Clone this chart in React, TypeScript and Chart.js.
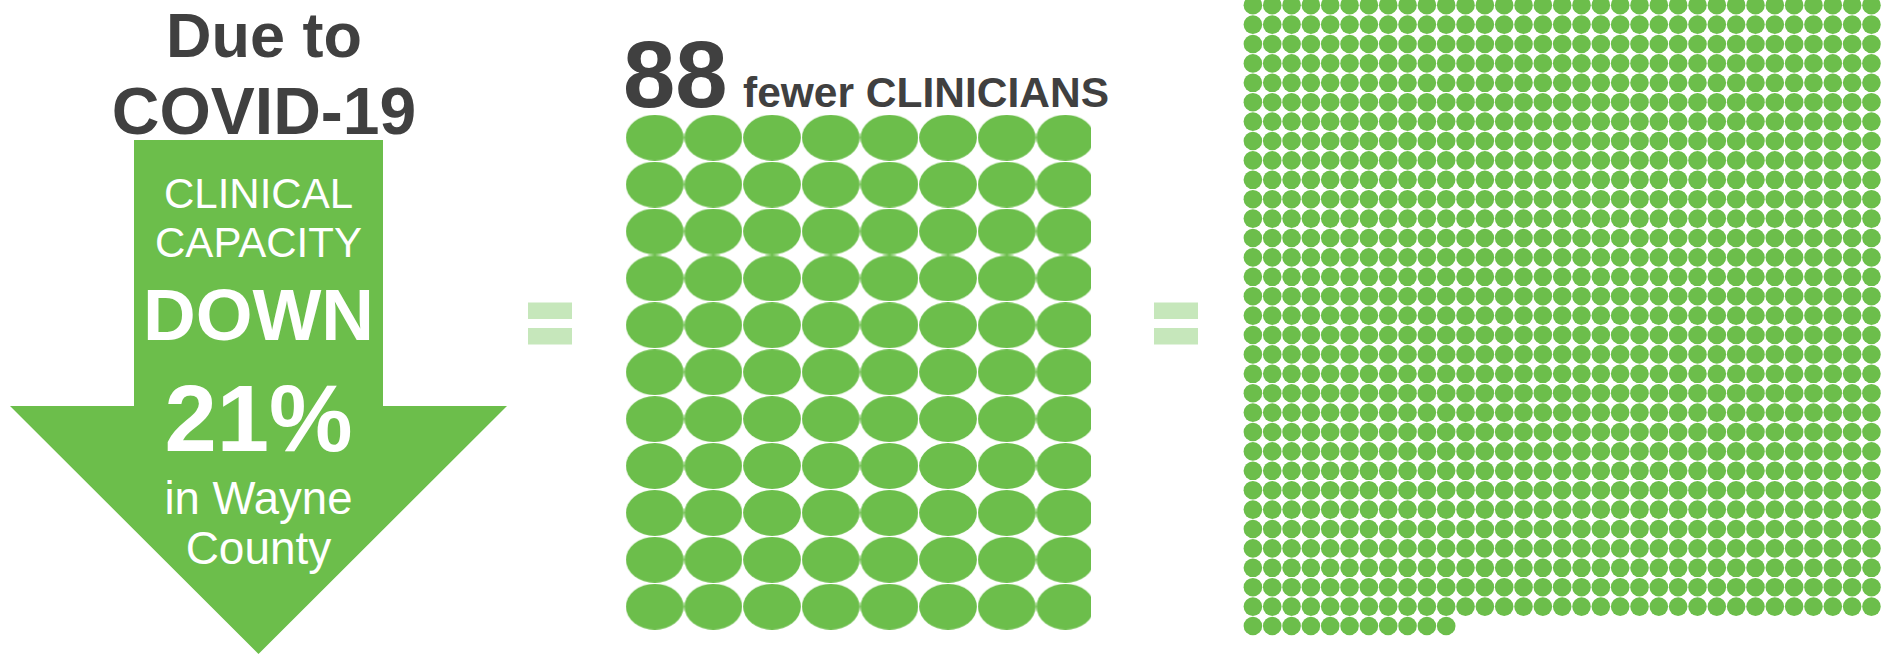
import { useEffect, useRef } from 'react';
import { Chart, registerables } from 'chart.js';

Chart.register(...registerables);

// ---- values ----
const HEADLINE_LINES = ['Due to', 'COVID-19'];
const ARROW_LINES = ['CLINICAL', 'CAPACITY', 'DOWN', '21%', 'in Wayne', 'County'];
const CLINICIAN_LABEL = ['88', 'fewer CLINICIANS'];
const WAFFLE_COUNTS = [88, 1067];
const WAFFLE_COLUMNS = [8, 33];

// ---- styling ----
const GREEN = '#6cbe4b';
const PALE_GREEN = '#c6e7bb';
const INK = '#404040';
const FONT = '"Liberation Sans", Arial, Helvetica, sans-serif';

type Box = { left: number; top: number; width: number; height: number };
type Grid = { cx0: number; cy0: number; px: number; py: number };

function ellipseSprite(w: number, h: number, color: string) {
  const c = document.createElement('canvas');
  c.width = Math.ceil(w);
  c.height = Math.ceil(h);
  const ctx = c.getContext('2d')!;
  ctx.fillStyle = color;
  ctx.beginPath();
  ctx.ellipse(c.width / 2, c.height / 2, w / 2, h / 2, 0, 0, Math.PI * 2);
  ctx.fill();
  return c;
}

function cells(count: number, columns: number) {
  return Array.from({ length: count }, (_, i) => ({ x: i % columns, y: Math.floor(i / columns) }));
}

function Waffle(props: {
  count: number;
  columns: number;
  box: Box;
  grid: Grid;
  dot: { w: number; h: number };
  blur?: number;
}) {
  const ref = useRef<HTMLCanvasElement>(null);
  const { count, columns, box, grid, dot, blur } = props;

  useEffect(() => {
    if (!ref.current) return;
    const xMin = -(grid.cx0 - box.left) / grid.px;
    const yMin = -(grid.cy0 - box.top) / grid.py;
    const round = Math.abs(dot.w - dot.h) < 0.01;
    const chart = new Chart(ref.current, {
      type: 'scatter',
      data: {
        datasets: [
          {
            data: cells(count, columns),
            pointStyle: round ? 'circle' : (ellipseSprite(dot.w, dot.h, GREEN) as any),
            pointRadius: dot.w / 2,
            pointHoverRadius: dot.w / 2,
            pointBackgroundColor: GREEN,
            pointBorderWidth: 0,
            pointHoverBorderWidth: 0,
            showLine: false,
            clip: false as any,
          },
        ],
      },
      options: {
        responsive: false,
        animation: false,
        devicePixelRatio: 1,
        events: [],
        layout: { padding: 0, autoPadding: false },
        plugins: { legend: { display: false }, tooltip: { enabled: false } },
        scales: {
          x: { type: 'linear', display: false, min: xMin, max: xMin + box.width / grid.px },
          y: {
            type: 'linear',
            display: false,
            reverse: true,
            min: yMin,
            max: yMin + box.height / grid.py,
          },
        },
      },
    });
    return () => chart.destroy();
  }, [count, columns]);

  return (
    <canvas
      ref={ref}
      width={box.width}
      height={box.height}
      style={{
        position: 'absolute',
        left: box.left,
        top: box.top,
        width: box.width,
        height: box.height,
        filter: blur ? `blur(${blur}px)` : undefined,
      }}
    />
  );
}

function EqualsSign({ x }: { x: number }) {
  return (
    <g fill={PALE_GREEN}>
      <rect x={x} y={302.5} width={44} height={16.5} />
      <rect x={x} y={328} width={44} height={16.5} />
    </g>
  );
}

export default function App() {
  const arrowCenter = 258.5;
  const arrowLineStyle = [
    { y: 208, size: 42, weight: 400 },
    { y: 257, size: 42, weight: 400 },
    { y: 340, size: 73, weight: 700 },
    { y: 451, size: 94, weight: 700 },
    { y: 514, size: 45.5, weight: 400 },
    { y: 564, size: 46, weight: 400 },
  ];

  return (
    <div
      style={{
        position: 'absolute',
        left: 0,
        top: 0,
        width: 1890,
        height: 658,
        overflow: 'hidden',
        background: '#ffffff',
      }}
    >
      <svg
        width={1890}
        height={658}
        style={{ position: 'absolute', left: 0, top: 0 }}
        fontFamily={FONT}
      >
        {/* downward arrow */}
        <polygon
          points="134,140 383,140 383,406 507,406 258.5,654 10,406 134,406"
          fill={GREEN}
        />
        <text x={264} y={57} fontSize={63} fontWeight={700} fill={INK} textAnchor="middle">
          {HEADLINE_LINES[0]}
        </text>
        <text x={264} y={134} fontSize={66} fontWeight={700} fill={INK} textAnchor="middle">
          {HEADLINE_LINES[1]}
        </text>
        {ARROW_LINES.map((line, i) => (
          <text
            key={line}
            x={arrowCenter}
            y={arrowLineStyle[i].y}
            fontSize={arrowLineStyle[i].size}
            fontWeight={arrowLineStyle[i].weight}
            fill="#ffffff"
            textAnchor="middle"
          >
            {line}
          </text>
        ))}

        <EqualsSign x={528} />
        <EqualsSign x={1154} />

        <text x={623} y={107} fontSize={94} fontWeight={700} fill={INK}>
          {CLINICIAN_LABEL[0]}
        </text>
        <text x={743} y={107} fontSize={42.5} fontWeight={700} fill={INK}>
          {CLINICIAN_LABEL[1]}
        </text>
      </svg>

      <Waffle
        count={WAFFLE_COUNTS[0]}
        columns={WAFFLE_COLUMNS[0]}
        box={{ left: 616, top: 100, width: 475, height: 545 }}
        grid={{ cx0: 654.7, cy0: 137.7, px: 58.67, py: 46.9 }}
        dot={{ w: 57.8, h: 46 }}
      />
      <Waffle
        count={WAFFLE_COUNTS[1]}
        columns={WAFFLE_COLUMNS[1]}
        box={{ left: 1236, top: 0, width: 654, height: 650 }}
        grid={{ cx0: 1252.9, cy0: 5.2, px: 19.33, py: 19.4 }}
        dot={{ w: 18.6, h: 18.6 }}
        blur={0.7}
      />
    </div>
  );
}
